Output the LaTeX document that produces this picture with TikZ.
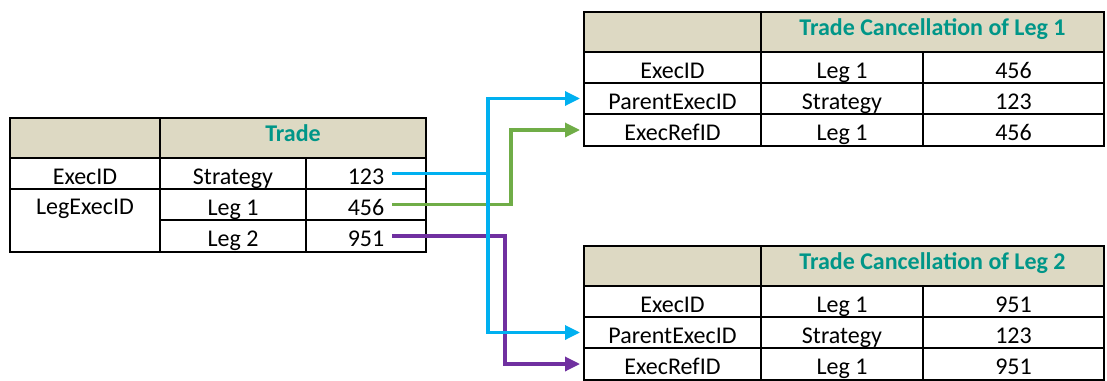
\documentclass[tikz,border=0pt]{standalone}
\usepackage{fontspec}
\setmainfont{Carlito}
\usetikzlibrary{arrows.meta,positioning}

\definecolor{hdtan}{RGB}{221,217,195}
\definecolor{hdteal}{RGB}{0,150,136}
\definecolor{lnblue}{RGB}{0,176,240}
\definecolor{lngreen}{RGB}{112,173,71}
\definecolor{lnpurple}{RGB}{112,48,160}

\newcommand{\tabfont}{\fontsize{24}{29}\selectfont}

\tikzset{
  cell/.style 2 args={draw, line width=2pt, anchor=north west, inner sep=0pt,
    minimum width=#1, minimum height=#2, text height=21.6pt, text depth=0pt},
  hdcell/.style={fill=hdtan, text=hdteal, font=\tabfont\bfseries, text depth=14.6pt},
  lbl/.style={inner xsep=8pt, inner ysep=0pt, text height=21.6pt, text depth=0pt},
  link/.style={line width=3.3pt, -{Triangle[length=15pt,width=14pt]}, shorten >=3pt},
}

\begin{document}
\begin{tikzpicture}[x=1pt, y=-1pt, font=\tabfont]
  \useasboundingbox (0,0) rectangle (1107,380);

  % trade table
  \node[cell={150pt}{40pt}, hdcell] (thd0) at (9,117) {};
  \node[cell={266pt}{40pt}, hdcell] (thd) at (159,117) {Trade};
  \node[cell={150pt}{31pt}] (texec) at (9,157) {ExecID};
  \node[cell={146pt}{31pt}] (tstrat) at (159,157) {Strategy};
  \node[cell={120pt}{31pt}] (c123) at (305,157) {};
  \node[cell={150pt}{63pt}] (tlegx) at (9,188) {};
  \node[cell={146pt}{31pt}] (tleg1) at (159,188) {Leg 1};
  \node[cell={120pt}{31pt}] (c456) at (305,188) {};
  \node[cell={146pt}{32pt}] (tleg2) at (159,219) {Leg 2};
  \node[cell={120pt}{32pt}] (c951) at (305,219) {};
  \node[below=0pt of tlegx.north, lbl, minimum height=31pt] (nlegx) {LegExecID};
  \node[lbl] (v123) at (c123) {123};
  \node[lbl] (v456) at (c456) {456};
  \node[lbl] (v951) at (c951) {951};

  % cancellation tables
  \foreach \t/\dy/\v/\g in {a/0/456/1, b/234/951/2}
  {
    \node[cell={177pt}{40pt}, hdcell] (\t hd0) at (583,{11+\dy}) {};
    \node[cell={343pt}{40pt}, hdcell] (\t hd) at (760,{11+\dy}) {Trade Cancellation of Leg \g};
    \node[cell={177pt}{31pt}] (\t exec) at (583,{51+\dy}) {ExecID};
    \node[cell={162pt}{31pt}] (\t leg) at (760,{51+\dy}) {Leg 1};
    \node[cell={181pt}{31pt}] (\t val) at (922,{51+\dy}) {\v};
    \node[cell={177pt}{31pt}] (\t pid) at (583,{82+\dy}) {ParentExecID};
    \node[cell={162pt}{31pt}] (\t pstrat) at (760,{82+\dy}) {Strategy};
    \node[cell={181pt}{31pt}] (\t pval) at (922,{82+\dy}) {123};
    \node[cell={177pt}{32pt}] (\t ref) at (583,{113+\dy}) {ExecRefID};
    \node[cell={162pt}{32pt}] (\t rleg) at (760,{113+\dy}) {Leg 1};
    \node[cell={181pt}{32pt}] (\t rval) at (922,{113+\dy}) {\v};
  }

  % links
  \coordinate (bx) at (488,0);
  \coordinate (gx) at (511,0);
  \coordinate (px) at (505,0);
  \draw[link, lngreen] (v456.east) -- (v456.east -| gx) |- (aref.west);
  \draw[link, lnpurple] (v951.east) -- (v951.east -| px) |- (bref.west);
  \draw[link, lnblue] (v123.east) -- (v123.east -| bx) |- (apid.west);
  \draw[link, lnblue] (v123.east -| bx) |- (bpid.west);
\end{tikzpicture}
\end{document}
